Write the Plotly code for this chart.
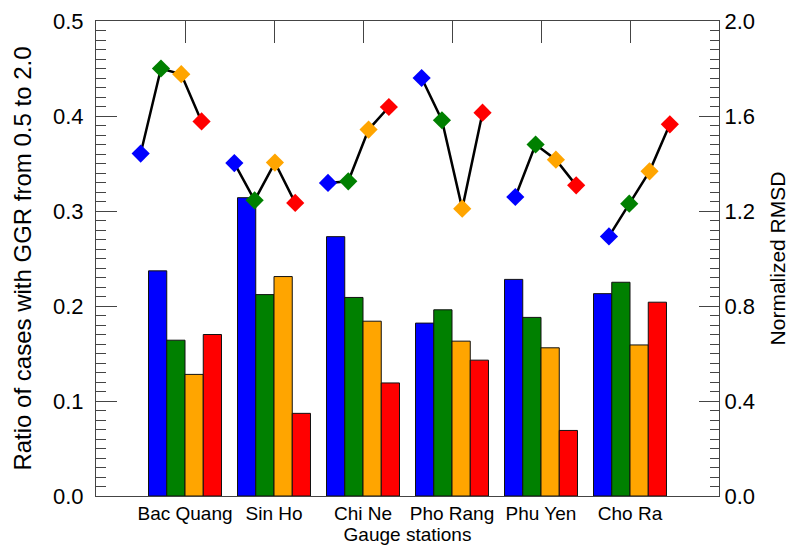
import plotly.graph_objects as go

stations = ["Bac Quang", "Sin Ho", "Chi Ne", "Pho Rang", "Phu Yen", "Cho Ra"]
series_names = ["S1", "S2", "S3", "S4"]
colors = ["#0000ff", "#008000", "#ffa500", "#ff0000"]

# Ratio of cases with GGR from 0.5 to 2.0 (bars, left axis)
ratio_s1 = [0.237, 0.314, 0.273, 0.182, 0.228, 0.213]
ratio_s2 = [0.164, 0.212, 0.209, 0.196, 0.188, 0.225]
ratio_s3 = [0.128, 0.231, 0.184, 0.163, 0.156, 0.159]
ratio_s4 = [0.170, 0.087, 0.119, 0.143, 0.069, 0.204]

# Normalized RMSD (diamonds, right axis)
rmsd_s1 = [1.442, 1.402, 1.318, 1.760, 1.259, 1.093]
rmsd_s2 = [1.800, 1.245, 1.325, 1.582, 1.480, 1.231]
rmsd_s3 = [1.776, 1.404, 1.543, 1.210, 1.416, 1.367]
rmsd_s4 = [1.577, 1.234, 1.638, 1.614, 1.308, 1.565]

ratios = [ratio_s1, ratio_s2, ratio_s3, ratio_s4]
rmsds = [rmsd_s1, rmsd_s2, rmsd_s3, rmsd_s4]

FONT = "Liberation Sans, Arial, Helvetica, sans-serif"
idx = list(range(len(stations)))

fig = go.Figure()
for k in range(4):
    fig.add_trace(go.Bar(
        x=idx, y=ratios[k], name=series_names[k],
        marker=dict(color=colors[k], line=dict(color="#111111", width=1)),
        xaxis="x", yaxis="y", showlegend=False,
    ))

# RMSD line: one connected segment per station, diamonds coloured per series
step = 0.2167
for g in idx:
    xs = [g + k * step for k in range(4)]
    ys = [rmsds[k][g] for k in range(4)]
    fig.add_trace(go.Scatter(
        x=xs, y=ys, mode="lines+markers",
        line=dict(color="black", width=2.5),
        marker=dict(symbol="diamond", size=14, color=colors, line=dict(width=0)),
        xaxis="x2", yaxis="y2", showlegend=False,
    ))

def tf(size):
    return dict(family=FONT, size=size, color="black")

fig.update_layout(
    template="none",
    width=794, height=548,
    margin=dict(l=96, r=75, t=21, b=52),
    bargap=0.18,
    xaxis=dict(
        range=[-1, 6], tickmode="array", tickvals=idx, ticktext=stations,
        ticks="inside", ticklen=22, showline=True, mirror="ticks",
        showgrid=False, zeroline=False, layer="below traces",
        tickfont=tf(19),
        title=dict(text="Gauge stations", font=tf(19), standoff=2),
    ),
    xaxis2=dict(range=[-0.477, 6.175], overlaying="x", visible=False),
    yaxis=dict(
        range=[0, 0.5], dtick=0.1, tickformat=".1f",
        ticks="inside", ticklen=21, showline=True,
        minor=dict(dtick=0.01, ticks="inside", ticklen=10),
        showgrid=False, zeroline=False,
        tickfont=tf(22), ticklabelstandoff=7,
        title=dict(text="Ratio of cases with GGR from 0.5 to 2.0", font=tf(24), standoff=14),
    ),
    yaxis2=dict(
        range=[0, 2.0], overlaying="y", side="right",
        dtick=0.4, tickformat=".1f",
        ticks="inside", ticklen=20, showline=True,
        minor=dict(dtick=0.04, ticks="inside", ticklen=9),
        showgrid=False, zeroline=False,
        tickfont=tf(22),
        title=dict(text="Normalized RMSD", font=tf(21), standoff=16),
    ),
)

fig.write_html("out.html", config={"displayModeBar": False})
with open("out.html", "r", encoding="utf-8") as f:
    html = f.read()
html = html.replace("<body>", '<body style="margin:0;padding:0;">', 1)
html = html.replace("<head>", "<head><style>html,body{margin:0;padding:0;}</style>", 1)
with open("out.html", "w", encoding="utf-8") as f:
    f.write(html)
